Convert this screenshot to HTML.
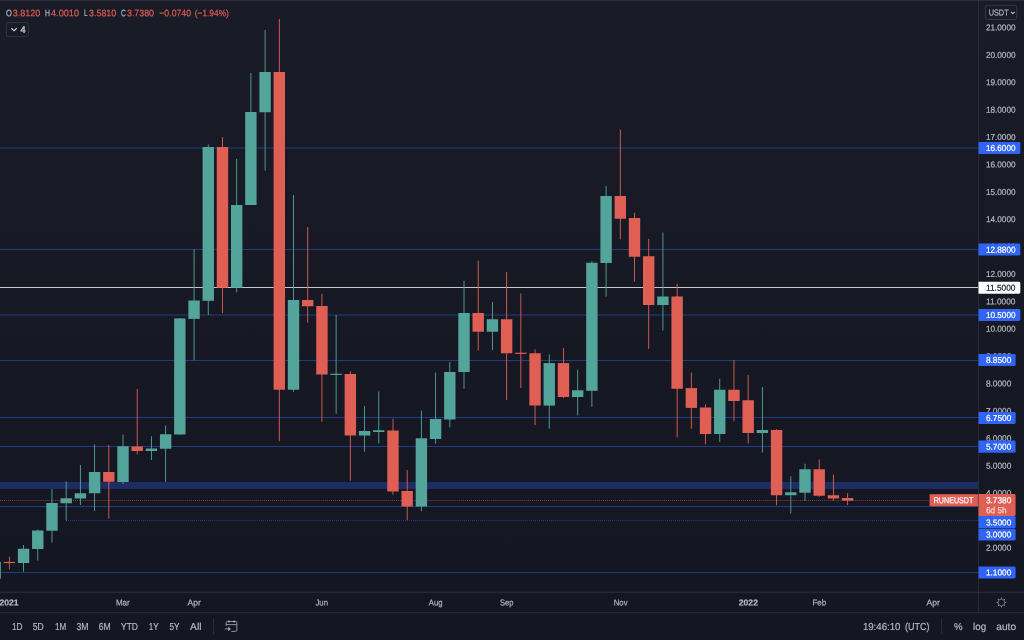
<!DOCTYPE html>
<html lang="en">
<head>
<meta charset="utf-8">
<title>RUNEUSDT 1W chart</title>
<style>
html,body{margin:0;padding:0;background:#141621;}
body{width:1024px;height:640px;overflow:hidden;position:relative;font-family:"Liberation Sans",sans-serif;}
.pane{position:absolute;left:0;top:0;width:979px;height:592px;background:linear-gradient(to bottom,#191b27 0%,#141621 100%);}
.price-axis{position:absolute;left:979px;top:0;width:45px;height:592px;background:linear-gradient(to bottom,#191b27 0%,#141621 100%);}
.time-axis{position:absolute;left:0;top:592px;width:1024px;height:21px;background:#141621;}
.toolbar{position:absolute;left:0;top:613px;width:1024px;height:27px;background:#141621;}
svg{position:absolute;left:0;top:0;width:1024px;height:640px;overflow:hidden;}
text{font-family:"Liberation Sans",sans-serif;text-rendering:geometricPrecision;}
.ax{font-size:8.7px;fill:#b4b7c0;stroke:#b4b7c0;stroke-width:.2px;}
.lb{font-size:8.7px;fill:#ffffff;stroke:#ffffff;stroke-width:.2px;}
.lg{font-size:9.4px;stroke-width:.2px;}
.tb{font-size:10.1px;fill:#b4b7c0;stroke:#b4b7c0;stroke-width:.2px;}
</style>
</head>
<body>
<div class="pane"></div>
<div class="price-axis"></div>
<div class="time-axis"></div>
<div class="toolbar"></div>
<svg width="1024" height="640" viewBox="0 0 1024 640">

<rect x="0" y="0" width="1024" height="1" fill="#2b2e3a"/>
<g id="levels">
<rect x="0" y="481.9" width="978.5" height="7.1" fill="#1e2d61"/>
<rect x="0" y="147.61" width="978.5" height="0.78" fill="#2547a0"/>
<rect x="0" y="249.11" width="978.5" height="0.78" fill="#2547a0"/>
<rect x="0" y="314.61" width="978.5" height="0.78" fill="#2547a0"/>
<rect x="0" y="360.06" width="978.5" height="0.78" fill="#2547a0"/>
<rect x="0" y="417.16" width="978.5" height="0.78" fill="#2547a0"/>
<rect x="0" y="446.11" width="978.5" height="0.78" fill="#2547a0"/>
<rect x="0" y="506.11" width="978.5" height="0.78" fill="#2547a0"/>
<rect x="0" y="572.11" width="978.5" height="0.78" fill="#2547a0"/>
<line x1="66" y1="520.50" x2="978.5" y2="520.50" stroke="#2a48a0" stroke-width="0.8" stroke-dasharray="1 1.03"/>
<rect x="0" y="287.10" width="978.5" height="0.8" fill="#f4f4f4"/>
</g>
<g id="candles">
<rect x="-5.31" y="555.00" width="0.9" height="25.00" fill="#53a49a"/>
<rect x="-10.56" y="562.00" width="11.4" height="16.75" fill="#53a49a"/>
<rect x="8.90" y="556.75" width="0.9" height="12.75" fill="#e05f55"/>
<rect x="3.65" y="561.90" width="11.4" height="1.20" fill="#e05f55"/>
<rect x="23.11" y="545.00" width="0.9" height="26.75" fill="#53a49a"/>
<rect x="17.86" y="548.75" width="11.4" height="14.25" fill="#53a49a"/>
<rect x="37.32" y="529.50" width="0.9" height="31.00" fill="#53a49a"/>
<rect x="32.07" y="530.50" width="11.4" height="18.50" fill="#53a49a"/>
<rect x="51.52" y="489.00" width="0.9" height="53.50" fill="#53a49a"/>
<rect x="46.27" y="503.00" width="11.4" height="27.75" fill="#53a49a"/>
<rect x="65.73" y="481.50" width="0.9" height="39.00" fill="#53a49a"/>
<rect x="60.48" y="498.25" width="11.4" height="5.00" fill="#53a49a"/>
<rect x="79.94" y="465.00" width="0.9" height="40.00" fill="#53a49a"/>
<rect x="74.69" y="493.25" width="11.4" height="5.25" fill="#53a49a"/>
<rect x="94.15" y="444.50" width="0.9" height="66.50" fill="#53a49a"/>
<rect x="88.90" y="472.00" width="11.4" height="21.25" fill="#53a49a"/>
<rect x="108.36" y="445.00" width="0.9" height="73.75" fill="#e05f55"/>
<rect x="103.11" y="472.00" width="11.4" height="9.75" fill="#e05f55"/>
<rect x="122.56" y="434.50" width="0.9" height="49.50" fill="#53a49a"/>
<rect x="117.31" y="446.25" width="11.4" height="35.75" fill="#53a49a"/>
<rect x="136.77" y="389.00" width="0.9" height="65.50" fill="#e05f55"/>
<rect x="131.52" y="446.50" width="11.4" height="4.50" fill="#e05f55"/>
<rect x="150.98" y="436.25" width="0.9" height="23.75" fill="#53a49a"/>
<rect x="145.73" y="448.50" width="11.4" height="2.50" fill="#53a49a"/>
<rect x="165.19" y="425.50" width="0.9" height="56.50" fill="#53a49a"/>
<rect x="159.94" y="434.25" width="11.4" height="14.50" fill="#53a49a"/>
<rect x="179.40" y="318.00" width="0.9" height="116.50" fill="#53a49a"/>
<rect x="174.15" y="318.40" width="11.4" height="116.10" fill="#53a49a"/>
<rect x="193.60" y="249.25" width="0.9" height="111.05" fill="#53a49a"/>
<rect x="188.35" y="300.50" width="11.4" height="18.40" fill="#53a49a"/>
<rect x="207.81" y="144.50" width="0.9" height="170.50" fill="#53a49a"/>
<rect x="202.56" y="147.00" width="11.4" height="153.80" fill="#53a49a"/>
<rect x="222.02" y="137.00" width="0.9" height="176.00" fill="#e05f55"/>
<rect x="216.77" y="147.00" width="11.4" height="140.70" fill="#e05f55"/>
<rect x="236.23" y="159.00" width="0.9" height="133.30" fill="#53a49a"/>
<rect x="230.98" y="205.00" width="11.4" height="82.70" fill="#53a49a"/>
<rect x="250.44" y="73.00" width="0.9" height="132.00" fill="#53a49a"/>
<rect x="245.19" y="112.00" width="11.4" height="93.00" fill="#53a49a"/>
<rect x="264.64" y="30.00" width="0.9" height="140.50" fill="#53a49a"/>
<rect x="259.39" y="72.00" width="11.4" height="40.25" fill="#53a49a"/>
<rect x="278.85" y="19.00" width="0.9" height="422.25" fill="#e05f55"/>
<rect x="273.60" y="72.00" width="11.4" height="317.75" fill="#e05f55"/>
<rect x="293.06" y="195.00" width="0.9" height="196.75" fill="#53a49a"/>
<rect x="287.81" y="300.00" width="11.4" height="89.75" fill="#53a49a"/>
<rect x="307.27" y="227.00" width="0.9" height="95.80" fill="#e05f55"/>
<rect x="302.02" y="300.00" width="11.4" height="6.25" fill="#e05f55"/>
<rect x="321.48" y="293.75" width="0.9" height="128.00" fill="#e05f55"/>
<rect x="316.23" y="306.00" width="11.4" height="68.50" fill="#e05f55"/>
<rect x="335.68" y="315.00" width="0.9" height="98.75" fill="#53a49a"/>
<rect x="330.43" y="373.70" width="11.4" height="1.20" fill="#53a49a"/>
<rect x="349.89" y="371.25" width="0.9" height="109.50" fill="#e05f55"/>
<rect x="344.64" y="374.00" width="11.4" height="61.50" fill="#e05f55"/>
<rect x="364.10" y="406.00" width="0.9" height="45.75" fill="#53a49a"/>
<rect x="358.85" y="431.00" width="11.4" height="4.50" fill="#53a49a"/>
<rect x="378.31" y="391.50" width="0.9" height="52.00" fill="#53a49a"/>
<rect x="373.06" y="430.25" width="11.4" height="1.75" fill="#53a49a"/>
<rect x="392.52" y="418.75" width="0.9" height="76.00" fill="#e05f55"/>
<rect x="387.27" y="430.50" width="11.4" height="61.00" fill="#e05f55"/>
<rect x="406.72" y="470.00" width="0.9" height="50.00" fill="#e05f55"/>
<rect x="401.47" y="491.00" width="11.4" height="15.50" fill="#e05f55"/>
<rect x="420.93" y="410.50" width="0.9" height="100.75" fill="#53a49a"/>
<rect x="415.68" y="438.25" width="11.4" height="68.25" fill="#53a49a"/>
<rect x="435.14" y="372.50" width="0.9" height="71.25" fill="#53a49a"/>
<rect x="429.89" y="419.00" width="11.4" height="20.00" fill="#53a49a"/>
<rect x="449.35" y="362.00" width="0.9" height="65.50" fill="#53a49a"/>
<rect x="444.10" y="372.00" width="11.4" height="47.50" fill="#53a49a"/>
<rect x="463.56" y="281.00" width="0.9" height="107.75" fill="#53a49a"/>
<rect x="458.31" y="313.00" width="11.4" height="59.00" fill="#53a49a"/>
<rect x="477.76" y="260.50" width="0.9" height="90.25" fill="#e05f55"/>
<rect x="472.51" y="313.00" width="11.4" height="18.75" fill="#e05f55"/>
<rect x="491.97" y="302.00" width="0.9" height="48.00" fill="#53a49a"/>
<rect x="486.72" y="319.25" width="11.4" height="12.50" fill="#53a49a"/>
<rect x="506.18" y="272.00" width="0.9" height="128.00" fill="#e05f55"/>
<rect x="500.93" y="319.25" width="11.4" height="34.00" fill="#e05f55"/>
<rect x="520.39" y="293.50" width="0.9" height="94.50" fill="#e05f55"/>
<rect x="515.14" y="352.70" width="11.4" height="1.20" fill="#e05f55"/>
<rect x="534.60" y="349.25" width="0.9" height="75.75" fill="#e05f55"/>
<rect x="529.35" y="353.25" width="11.4" height="52.25" fill="#e05f55"/>
<rect x="548.80" y="354.40" width="0.9" height="74.35" fill="#53a49a"/>
<rect x="543.55" y="363.10" width="11.4" height="42.50" fill="#53a49a"/>
<rect x="563.01" y="348.10" width="0.9" height="49.90" fill="#e05f55"/>
<rect x="557.76" y="363.10" width="11.4" height="33.90" fill="#e05f55"/>
<rect x="577.22" y="369.70" width="0.9" height="45.60" fill="#53a49a"/>
<rect x="571.97" y="390.30" width="11.4" height="6.70" fill="#53a49a"/>
<rect x="591.43" y="261.00" width="0.9" height="145.90" fill="#53a49a"/>
<rect x="586.18" y="262.75" width="11.4" height="128.05" fill="#53a49a"/>
<rect x="605.64" y="186.00" width="0.9" height="110.75" fill="#53a49a"/>
<rect x="600.39" y="196.00" width="11.4" height="67.00" fill="#53a49a"/>
<rect x="619.84" y="129.50" width="0.9" height="109.75" fill="#e05f55"/>
<rect x="614.59" y="196.00" width="11.4" height="22.75" fill="#e05f55"/>
<rect x="634.05" y="212.75" width="0.9" height="69.00" fill="#e05f55"/>
<rect x="628.80" y="218.00" width="11.4" height="38.75" fill="#e05f55"/>
<rect x="648.26" y="239.00" width="0.9" height="109.90" fill="#e05f55"/>
<rect x="643.01" y="256.25" width="11.4" height="48.75" fill="#e05f55"/>
<rect x="662.47" y="232.50" width="0.9" height="98.00" fill="#53a49a"/>
<rect x="657.22" y="296.50" width="11.4" height="8.50" fill="#53a49a"/>
<rect x="676.68" y="283.75" width="0.9" height="153.85" fill="#e05f55"/>
<rect x="671.43" y="296.50" width="11.4" height="92.25" fill="#e05f55"/>
<rect x="690.88" y="372.50" width="0.9" height="56.20" fill="#e05f55"/>
<rect x="685.63" y="388.10" width="11.4" height="19.80" fill="#e05f55"/>
<rect x="705.09" y="404.50" width="0.9" height="39.75" fill="#e05f55"/>
<rect x="699.84" y="407.50" width="11.4" height="26.50" fill="#e05f55"/>
<rect x="719.30" y="378.75" width="0.9" height="63.25" fill="#53a49a"/>
<rect x="714.05" y="389.75" width="11.4" height="44.25" fill="#53a49a"/>
<rect x="733.51" y="360.00" width="0.9" height="61.25" fill="#e05f55"/>
<rect x="728.26" y="389.75" width="11.4" height="11.25" fill="#e05f55"/>
<rect x="747.72" y="375.00" width="0.9" height="68.50" fill="#e05f55"/>
<rect x="742.47" y="400.25" width="11.4" height="32.75" fill="#e05f55"/>
<rect x="761.92" y="387.00" width="0.9" height="65.50" fill="#53a49a"/>
<rect x="756.67" y="430.00" width="11.4" height="3.00" fill="#53a49a"/>
<rect x="776.13" y="429.25" width="0.9" height="76.00" fill="#e05f55"/>
<rect x="770.88" y="430.00" width="11.4" height="65.25" fill="#e05f55"/>
<rect x="790.34" y="476.25" width="0.9" height="37.25" fill="#53a49a"/>
<rect x="785.09" y="492.25" width="11.4" height="3.00" fill="#53a49a"/>
<rect x="804.55" y="463.75" width="0.9" height="37.25" fill="#53a49a"/>
<rect x="799.30" y="469.25" width="11.4" height="23.50" fill="#53a49a"/>
<rect x="818.76" y="459.50" width="0.9" height="37.25" fill="#e05f55"/>
<rect x="813.51" y="469.25" width="11.4" height="26.50" fill="#e05f55"/>
<rect x="832.96" y="474.50" width="0.9" height="26.00" fill="#e05f55"/>
<rect x="827.71" y="495.25" width="11.4" height="3.25" fill="#e05f55"/>
<rect x="847.17" y="493.20" width="0.9" height="11.80" fill="#e05f55"/>
<rect x="841.92" y="498.00" width="11.4" height="2.70" fill="#e05f55"/>
</g>
<line x1="0" y1="500.45" x2="930" y2="500.45" stroke="#e05f55" stroke-width="0.8" stroke-dasharray="1 1.03" opacity="0.7"/>
<rect x="978.15" y="1" width="0.95" height="611.5" fill="#2b2e3a"/>
<rect x="0" y="591.8" width="1024" height="1" fill="#2b2e3a"/>
<rect x="0" y="612.2" width="1024" height="1" fill="#2b2e3a"/>
<g id="price-scale">
<text transform="translate(985.90 30.58) skewY(0.04)" textLength="29.60" lengthAdjust="spacingAndGlyphs" class="ax" >21.0000</text>
<text transform="translate(985.90 57.97) skewY(0.04)" textLength="29.60" lengthAdjust="spacingAndGlyphs" class="ax" >20.0000</text>
<text transform="translate(985.90 85.35) skewY(0.04)" textLength="29.60" lengthAdjust="spacingAndGlyphs" class="ax" >19.0000</text>
<text transform="translate(985.90 112.73) skewY(0.04)" textLength="29.60" lengthAdjust="spacingAndGlyphs" class="ax" >18.0000</text>
<text transform="translate(985.90 140.11) skewY(0.04)" textLength="29.60" lengthAdjust="spacingAndGlyphs" class="ax" >17.0000</text>
<text transform="translate(985.90 167.50) skewY(0.04)" textLength="29.60" lengthAdjust="spacingAndGlyphs" class="ax" >16.0000</text>
<text transform="translate(985.90 194.88) skewY(0.04)" textLength="29.60" lengthAdjust="spacingAndGlyphs" class="ax" >15.0000</text>
<text transform="translate(985.90 222.26) skewY(0.04)" textLength="29.60" lengthAdjust="spacingAndGlyphs" class="ax" >14.0000</text>
<text transform="translate(985.90 249.65) skewY(0.04)" textLength="29.60" lengthAdjust="spacingAndGlyphs" class="ax" >13.0000</text>
<text transform="translate(985.90 277.03) skewY(0.04)" textLength="29.60" lengthAdjust="spacingAndGlyphs" class="ax" >12.0000</text>
<text transform="translate(985.90 304.41) skewY(0.04)" textLength="29.60" lengthAdjust="spacingAndGlyphs" class="ax" >11.0000</text>
<text transform="translate(985.90 331.80) skewY(0.04)" textLength="29.60" lengthAdjust="spacingAndGlyphs" class="ax" >10.0000</text>
<text transform="translate(985.90 359.18) skewY(0.04)" textLength="25.40" lengthAdjust="spacingAndGlyphs" class="ax" >9.0000</text>
<text transform="translate(985.90 386.56) skewY(0.04)" textLength="25.40" lengthAdjust="spacingAndGlyphs" class="ax" >8.0000</text>
<text transform="translate(985.90 413.94) skewY(0.04)" textLength="25.40" lengthAdjust="spacingAndGlyphs" class="ax" >7.0000</text>
<text transform="translate(985.90 441.33) skewY(0.04)" textLength="25.40" lengthAdjust="spacingAndGlyphs" class="ax" >6.0000</text>
<text transform="translate(985.90 468.71) skewY(0.04)" textLength="25.40" lengthAdjust="spacingAndGlyphs" class="ax" >5.0000</text>
<text transform="translate(985.90 496.09) skewY(0.04)" textLength="25.40" lengthAdjust="spacingAndGlyphs" class="ax" >4.0000</text>
<text transform="translate(985.90 523.48) skewY(0.04)" textLength="25.40" lengthAdjust="spacingAndGlyphs" class="ax" >3.0000</text>
<text transform="translate(985.90 550.86) skewY(0.04)" textLength="25.40" lengthAdjust="spacingAndGlyphs" class="ax" >2.0000</text>
</g>
<g id="level-labels">
<path d="M978.5 141.90H1018.90Q1020.30 141.90 1020.30 143.30V152.60Q1020.30 154.00 1018.90 154.00H978.5Z" fill="#3064f5"/>
<text transform="translate(985.90 151.10) skewY(0.04)" textLength="29.60" lengthAdjust="spacingAndGlyphs" class="lb" >16.6000</text>
<path d="M978.5 243.60H1018.90Q1020.30 243.60 1020.30 245.00V254.20Q1020.30 255.60 1018.90 255.60H978.5Z" fill="#3064f5"/>
<text transform="translate(985.90 252.75) skewY(0.04)" textLength="29.60" lengthAdjust="spacingAndGlyphs" class="lb" >12.8800</text>
<path d="M978.5 308.90H1018.90Q1020.30 308.90 1020.30 310.30V319.50Q1020.30 320.90 1018.90 320.90H978.5Z" fill="#3064f5"/>
<text transform="translate(985.90 318.05) skewY(0.04)" textLength="29.60" lengthAdjust="spacingAndGlyphs" class="lb" >10.5000</text>
<path d="M978.5 353.90H1014.20Q1015.60 353.90 1015.60 355.30V364.50Q1015.60 365.90 1014.20 365.90H978.5Z" fill="#3064f5"/>
<text transform="translate(985.90 363.05) skewY(0.04)" textLength="25.40" lengthAdjust="spacingAndGlyphs" class="lb" >8.8500</text>
<path d="M978.5 411.90H1014.20Q1015.60 411.90 1015.60 413.30V422.60Q1015.60 424.00 1014.20 424.00H978.5Z" fill="#3064f5"/>
<text transform="translate(985.90 421.10) skewY(0.04)" textLength="25.40" lengthAdjust="spacingAndGlyphs" class="lb" >6.7500</text>
<path d="M978.5 440.60H1014.20Q1015.60 440.60 1015.60 442.00V451.30Q1015.60 452.70 1014.20 452.70H978.5Z" fill="#3064f5"/>
<text transform="translate(985.90 449.80) skewY(0.04)" textLength="25.40" lengthAdjust="spacingAndGlyphs" class="lb" >5.7000</text>
<path d="M978.5 566.40H1014.20Q1015.60 566.40 1015.60 567.80V577.00Q1015.60 578.40 1014.20 578.40H978.5Z" fill="#3064f5"/>
<text transform="translate(985.90 575.55) skewY(0.04)" textLength="25.40" lengthAdjust="spacingAndGlyphs" class="lb" >1.1000</text>
<path d="M978.5 281.70H1018.90Q1020.30 281.70 1020.30 283.10V292.30Q1020.30 293.70 1018.90 293.70H978.5Z" fill="#ffffff"/>
<text transform="translate(985.90 290.85) skewY(0.04)" textLength="29.60" lengthAdjust="spacingAndGlyphs" class="lb" style="fill:#131722;stroke:#131722">11.5000</text>
<path d="M978.5 494.10H1014.20Q1015.60 494.10 1015.60 495.50V514.60Q1015.60 516.00 1014.20 516.00H978.5Z" fill="#e05f55"/>
<text transform="translate(985.90 503.20) skewY(0.04)" textLength="25.40" lengthAdjust="spacingAndGlyphs" class="lb" >3.7380</text>
<text transform="translate(985.90 513.20) skewY(0.04)" textLength="20.80" lengthAdjust="spacingAndGlyphs" class="lb" style="fill:#f6d2cf;stroke:#f6d2cf">6d 5h</text>
<path d="M978.5 516.00H1014.20Q1015.60 516.00 1015.60 517.40V526.90Q1015.60 528.30 1014.20 528.30H978.5Z" fill="#3064f5"/>
<text transform="translate(985.90 525.40) skewY(0.04)" textLength="25.40" lengthAdjust="spacingAndGlyphs" class="lb" >3.5000</text>
<path d="M978.5 528.70H1014.20Q1015.60 528.70 1015.60 530.10V539.20Q1015.60 540.60 1014.20 540.60H978.5Z" fill="#3064f5"/>
<text transform="translate(985.90 537.50) skewY(0.04)" textLength="25.40" lengthAdjust="spacingAndGlyphs" class="lb" >3.0000</text>
<rect x="929.6" y="494.2" width="48.3" height="12.1" fill="#e05f55"/>
<text transform="translate(933.70 503.30) skewY(0.04)" textLength="39.70" lengthAdjust="spacingAndGlyphs" class="lb" >RUNEUSDT</text>
</g>
<rect x="985.3" y="5.3" width="31.5" height="14.2" rx="2" fill="none" stroke="#3a3e4b" stroke-width="0.85"/>
<text transform="translate(988.70 15.55) skewY(0.04)" textLength="19.90" lengthAdjust="spacingAndGlyphs" class="ax" >USDT</text>
<path d="M1010.9 11.9l1.9 1.8 1.9-1.8" fill="none" stroke="#b4b7c0" stroke-width="1.2"/>
<g id="legend">
<text transform="translate(6.00 16.15) skewY(0.04)" textLength="5.90" lengthAdjust="spacingAndGlyphs" class="lg" fill="#b4b7c0" stroke="#b4b7c0">O</text>
<text transform="translate(12.75 16.15) skewY(0.04)" textLength="27.50" lengthAdjust="spacingAndGlyphs" class="lg" fill="#e05f55" stroke="#e05f55">3.8120</text>
<text transform="translate(45.00 16.15) skewY(0.04)" textLength="5.00" lengthAdjust="spacingAndGlyphs" class="lg" fill="#b4b7c0" stroke="#b4b7c0">H</text>
<text transform="translate(51.00 16.15) skewY(0.04)" textLength="28.00" lengthAdjust="spacingAndGlyphs" class="lg" fill="#e05f55" stroke="#e05f55">4.0010</text>
<text transform="translate(84.00 16.15) skewY(0.04)" textLength="3.60" lengthAdjust="spacingAndGlyphs" class="lg" fill="#b4b7c0" stroke="#b4b7c0">L</text>
<text transform="translate(89.00 16.15) skewY(0.04)" textLength="27.30" lengthAdjust="spacingAndGlyphs" class="lg" fill="#e05f55" stroke="#e05f55">3.5810</text>
<text transform="translate(121.00 16.15) skewY(0.04)" textLength="4.80" lengthAdjust="spacingAndGlyphs" class="lg" fill="#b4b7c0" stroke="#b4b7c0">C</text>
<text transform="translate(127.00 16.15) skewY(0.04)" textLength="27.00" lengthAdjust="spacingAndGlyphs" class="lg" fill="#e05f55" stroke="#e05f55">3.7380</text>
<text transform="translate(159.25 16.15) skewY(0.04)" textLength="31.80" lengthAdjust="spacingAndGlyphs" class="lg" fill="#e05f55" stroke="#e05f55">−0.0740</text>
<text transform="translate(194.75 16.15) skewY(0.04)" textLength="34.10" lengthAdjust="spacingAndGlyphs" class="lg" fill="#e05f55" stroke="#e05f55">(−1.94%)</text>
<rect x="6.4" y="22.6" width="22.2" height="14" rx="1.8" fill="none" stroke="#363a47" stroke-width="0.85"/>
<path d="M11.3 28.3l2.7 2.4 2.7-2.4" fill="none" stroke="#d0d2d8" stroke-width="1.15"/>
<text transform="translate(20.50 32.70) skewY(0.04)" textLength="5.10" lengthAdjust="spacingAndGlyphs" class="lg" fill="#d4d6dc" stroke="#d4d6dc" style="stroke-width:.3px">4</text>
</g>
<g id="time-scale">
<text transform="translate(-0.60 605.50) skewY(0.04)" textLength="19.20" lengthAdjust="spacingAndGlyphs" class="ax" font-weight="bold">2021</text>
<text transform="translate(115.90 605.50) skewY(0.04)" textLength="13.80" lengthAdjust="spacingAndGlyphs" class="ax" >Mar</text>
<text transform="translate(187.60 605.50) skewY(0.04)" textLength="13.20" lengthAdjust="spacingAndGlyphs" class="ax" >Apr</text>
<text transform="translate(315.50 605.50) skewY(0.04)" textLength="12.50" lengthAdjust="spacingAndGlyphs" class="ax" >Jun</text>
<text transform="translate(428.75 605.50) skewY(0.04)" textLength="13.75" lengthAdjust="spacingAndGlyphs" class="ax" >Aug</text>
<text transform="translate(500.00 605.50) skewY(0.04)" textLength="13.50" lengthAdjust="spacingAndGlyphs" class="ax" >Sep</text>
<text transform="translate(613.75 605.50) skewY(0.04)" textLength="13.75" lengthAdjust="spacingAndGlyphs" class="ax" >Nov</text>
<text transform="translate(738.75 605.50) skewY(0.04)" textLength="19.25" lengthAdjust="spacingAndGlyphs" class="ax" font-weight="bold">2022</text>
<text transform="translate(812.50 605.50) skewY(0.04)" textLength="13.75" lengthAdjust="spacingAndGlyphs" class="ax" >Feb</text>
<text transform="translate(926.50 605.50) skewY(0.04)" textLength="13.30" lengthAdjust="spacingAndGlyphs" class="ax" >Apr</text>
<g transform="translate(1001.4 602.5)"><circle cx="0" cy="0" r="3.3" fill="none" stroke="#8a8e9c" stroke-width="0.7"/>
<path transform="rotate(0)" d="M-0.75 -3.5L0 -5.5L0.75 -3.5Z" fill="#8a8e9c"/>
<path transform="rotate(45)" d="M-0.75 -3.5L0 -5.5L0.75 -3.5Z" fill="#8a8e9c"/>
<path transform="rotate(90)" d="M-0.75 -3.5L0 -5.5L0.75 -3.5Z" fill="#8a8e9c"/>
<path transform="rotate(135)" d="M-0.75 -3.5L0 -5.5L0.75 -3.5Z" fill="#8a8e9c"/>
<path transform="rotate(180)" d="M-0.75 -3.5L0 -5.5L0.75 -3.5Z" fill="#8a8e9c"/>
<path transform="rotate(225)" d="M-0.75 -3.5L0 -5.5L0.75 -3.5Z" fill="#8a8e9c"/>
<path transform="rotate(270)" d="M-0.75 -3.5L0 -5.5L0.75 -3.5Z" fill="#8a8e9c"/>
<path transform="rotate(315)" d="M-0.75 -3.5L0 -5.5L0.75 -3.5Z" fill="#8a8e9c"/>
</g>
</g>
<g id="toolbar">
<text transform="translate(11.90 629.90) skewY(0.04)" textLength="10.60" lengthAdjust="spacingAndGlyphs" class="tb" >1D</text>
<text transform="translate(32.75 629.90) skewY(0.04)" textLength="11.00" lengthAdjust="spacingAndGlyphs" class="tb" >5D</text>
<text transform="translate(55.00 629.90) skewY(0.04)" textLength="11.25" lengthAdjust="spacingAndGlyphs" class="tb" >1M</text>
<text transform="translate(76.50 629.90) skewY(0.04)" textLength="12.00" lengthAdjust="spacingAndGlyphs" class="tb" >3M</text>
<text transform="translate(98.75 629.90) skewY(0.04)" textLength="11.90" lengthAdjust="spacingAndGlyphs" class="tb" >6M</text>
<text transform="translate(121.00 629.90) skewY(0.04)" textLength="17.00" lengthAdjust="spacingAndGlyphs" class="tb" >YTD</text>
<text transform="translate(148.70 629.90) skewY(0.04)" textLength="9.90" lengthAdjust="spacingAndGlyphs" class="tb" >1Y</text>
<text transform="translate(169.50 629.90) skewY(0.04)" textLength="10.00" lengthAdjust="spacingAndGlyphs" class="tb" >5Y</text>
<text transform="translate(190.10 629.90) skewY(0.04)" textLength="11.30" lengthAdjust="spacingAndGlyphs" class="tb" >All</text>
<rect x="213.1" y="618.6" width="0.9" height="15.4" fill="#2c303d"/>
<g fill="none" stroke="#9da0ad" stroke-width="0.9"><path d="M226.15 625.9v-3.1a1.3 1.3 0 0 1 1.3-1.3h8.1a1.3 1.3 0 0 1 1.3 1.3v7.3a1.3 1.3 0 0 1-1.3 1.3h-4.3"/><path d="M226.15 624.6h10.7"/><path d="M227.9 621.5h2.3M233 621.5h2.3" stroke-width="1.3" stroke="#b4b7c0"/><path d="M224.9 628.9h4"/><path d="M228.2 626.5l2.7 2.4-2.7 2.4z" fill="#a9acb8" stroke="none"/></g>
<text transform="translate(862.90 630.00) skewY(0.04)" textLength="37.50" lengthAdjust="spacingAndGlyphs" class="tb" >19:46:10</text>
<text transform="translate(905.10 630.00) skewY(0.04)" textLength="24.40" lengthAdjust="spacingAndGlyphs" class="tb" >(UTC)</text>
<rect x="941.2" y="618.6" width="0.9" height="15.2" fill="#2c303d"/>
<text transform="translate(953.90 630.00) skewY(0.04)" textLength="8.60" lengthAdjust="spacingAndGlyphs" class="tb" >%</text>
<text transform="translate(973.00 630.00) skewY(0.04)" textLength="13.10" lengthAdjust="spacingAndGlyphs" class="tb" >log</text>
<text transform="translate(996.25 630.00) skewY(0.04)" textLength="19.80" lengthAdjust="spacingAndGlyphs" class="tb" >auto</text>
</g>
</svg>
</body>
</html>
